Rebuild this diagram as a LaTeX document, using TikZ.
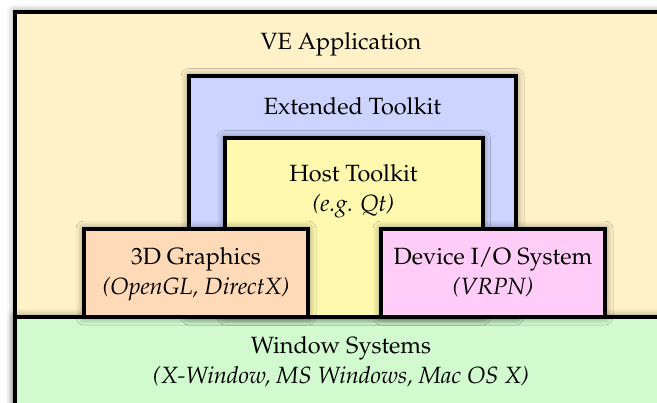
\documentclass[tikz,border=0pt]{standalone}
\usepackage[T1]{fontenc}
\usepackage{mathpazo}
\usetikzlibrary{shadows.blur}
\definecolor{appc}{RGB}{255,242,200}
\definecolor{extc}{RGB}{204,212,255}
\definecolor{hostc}{RGB}{255,249,176}
\definecolor{gfxc}{RGB}{255,218,184}
\definecolor{devc}{RGB}{255,205,247}
\definecolor{winc}{RGB}{209,251,207}
\tikzset{
  layer/.style={draw=black, line width=4pt, blur shadow={shadow xshift=0pt, shadow yshift=0pt, shadow blur radius=8pt, shadow opacity=55}},
  lbl/.style={align=center, font=\fontsize{23.5}{30}\selectfont, inner sep=0pt}
}
\begin{document}
\begin{tikzpicture}[x=1pt,y=-1pt]
\useasboundingbox (0,0) rectangle (657,403);
\clip (0,0) rectangle (657,403);
\path[layer, fill=appc] (15,12) rectangle (667,430);
\path[layer, fill=winc] (15,317) rectangle (667,430);
\path[layer, fill=extc] (189,76.5) rectangle (516,317);
\path[layer, fill=hostc] (225,138.5) rectangle (482.5,317);
\path[layer, fill=gfxc] (84,229) rectangle (308,317);
\path[layer, fill=devc] (381,229) rectangle (605,317);
\draw[line width=4pt] (15,317) -- (667,317);
\node[lbl, anchor=base] (app) at (341,50) {VE Application};
\node[lbl, anchor=base] (ext) at (352.5,115) {Extended Toolkit};
\node[lbl, anchor=base] (host) at (353.5,212) {Host Toolkit\\\textit{(e.g. Qt)}};
\node[lbl, anchor=base] (gfx) at (196,295) {3D Graphics\\\textit{(OpenGL, DirectX)}};
\node[lbl, anchor=base] (dev) at (493,295) {Device I/O System\\\textit{(VRPN)}};
\node[lbl, anchor=base] (win) at (341,384) {Window Systems\\\textit{(X-Window, MS Windows, Mac OS X)}};
\end{tikzpicture}
\end{document}
